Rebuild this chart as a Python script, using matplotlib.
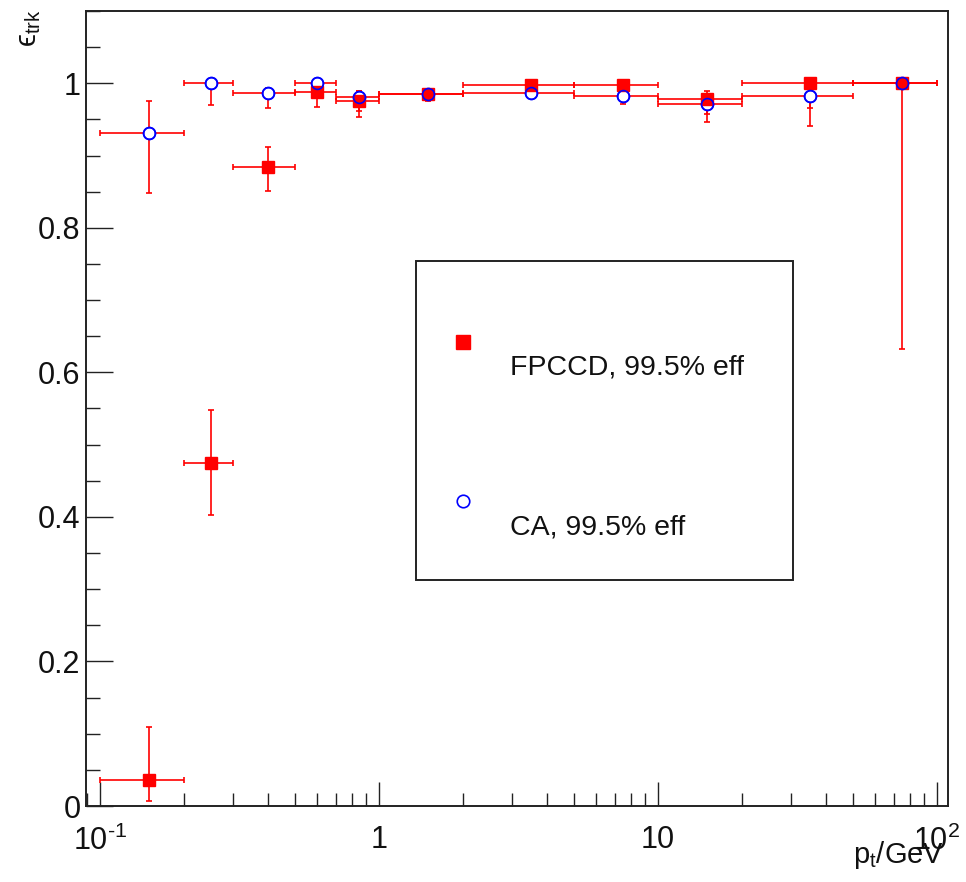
import matplotlib.pyplot as plt
import matplotlib.ticker as ticker
from matplotlib.patches import Rectangle
from matplotlib.lines import Line2D
import numpy as np

plt.rcParams['font.family'] = ['Liberation Sans', 'DejaVu Sans']
plt.rcParams['mathtext.fontset'] = 'custom'
plt.rcParams['mathtext.rm'] = 'Liberation Sans'
plt.rcParams['mathtext.it'] = 'Liberation Sans:italic'

# pt bins (GeV)
bin_lo = [0.1, 0.2, 0.3, 0.5, 0.7, 1.0, 2.0, 5.0, 10.0, 20.0, 50.0]
bin_hi = [0.2, 0.3, 0.5, 0.7, 1.0, 2.0, 5.0, 10.0, 20.0, 50.0, 100.0]
pt = [0.15, 0.25, 0.4, 0.6, 0.85, 1.5, 3.5, 7.5, 15.0, 35.0, 75.0]

# tracking efficiency, FPCCD
eff_fpccd = [0.036, 0.475, 0.884, 0.988, 0.975, 0.985, 0.997, 0.997, 0.978, 1.0, 1.0]
err_fpccd_lo = [0.029, 0.072, 0.033, 0.021, 0.022, 0.010, 0.004, 0.004, 0.032, 0.034, 0.367]
err_fpccd_hi = [0.073, 0.073, 0.028, 0.009, 0.015, 0.005, 0.003, 0.003, 0.012, 0.0, 0.0]

# tracking efficiency, CA
eff_ca = [0.931, 1.0, 0.986, 1.0, 0.981, 0.985, 0.986, 0.983, 0.971, 0.982, 1.0]
err_ca_lo = [0.083, 0.030, 0.020, 0.010, 0.020, 0.008, 0.005, 0.012, 0.014, 0.041, 0.0]
err_ca_hi = [0.044, 0.0, 0.008, 0.0, 0.009, 0.005, 0.005, 0.005, 0.012, 0.018, 0.0]

labels = ['FPCCD, 99.5% eff', 'CA, 99.5% eff']
xtick_labels = [r'$10^{\text{-}1}$', '1', '10', '$10^{2}$']

fig = plt.figure(figsize=(9.66, 8.82), dpi=100)
ax = fig.add_axes([86 / 966, 76 / 882, 862 / 966, 795 / 882])

pt_a = np.array(pt)
xerr = [pt_a - np.array(bin_lo), np.array(bin_hi) - pt_a]

# error bars (both in red)
ax.errorbar(pt, eff_ca, xerr=xerr, yerr=[err_ca_lo, err_ca_hi], fmt='none',
            ecolor='#ff0000', elinewidth=1.2, capsize=2.3, capthick=1.2, zorder=2)
ax.errorbar(pt, eff_fpccd, xerr=xerr, yerr=[err_fpccd_lo, err_fpccd_hi], fmt='none',
            ecolor='#ff0000', elinewidth=1.2, capsize=2.3, capthick=1.2, zorder=2)

# markers: white-filled circles, red squares, then circle outlines on top
ax.plot(pt, eff_ca, 'o', ms=8.5, mfc='white', mec='#0000ff', mew=1.2, ls='none', zorder=3)
ax.plot(pt, eff_fpccd, 's', ms=8.5, mfc='#ff0000', mec='#ff0000', ls='none', zorder=4)
ax.plot(pt, eff_ca, 'o', ms=8.5, mfc='none', mec='#0000ff', mew=1.2, ls='none', zorder=5)

ax.set_xscale('log')
ax.set_xlim(0.0891, 109.5)
ax.set_ylim(0, 1.1)

ax.xaxis.set_major_locator(ticker.FixedLocator([0.1, 1, 10, 100]))
ax.xaxis.set_major_formatter(ticker.FixedFormatter(xtick_labels))
ax.xaxis.set_minor_locator(ticker.LogLocator(base=10, subs=np.arange(2, 10), numticks=20))
ax.xaxis.set_minor_formatter(ticker.NullFormatter())

ax.yaxis.set_major_locator(ticker.MultipleLocator(0.2))
ax.yaxis.set_minor_locator(ticker.MultipleLocator(0.05))
ax.yaxis.set_major_formatter(ticker.FuncFormatter(lambda v, p: '%g' % round(v, 2)))

ax.tick_params(which='both', direction='in', top=False, right=False,
               width=1.0, color='#222222', labelsize=22, labelcolor='#111111')
ax.tick_params(axis='y', which='major', length=19.5, pad=4)
ax.tick_params(axis='y', which='minor', length=10)
ax.tick_params(axis='x', which='major', length=17, pad=14)
ax.tick_params(axis='x', which='minor', length=9.5)

for s in ax.spines.values():
    s.set_linewidth(1.4)
    s.set_color('#222222')

# axis titles at the axis ends
fig.text(944 / 966, 1 - 863 / 882, r'$\mathrm{p}_{\mathrm{t}}$/GeV', ha='right',
         va='baseline', fontsize=21, color='#111111')
fig.text(29 / 966, 1 - 9 / 882, r'ϵ$_{\mathrm{trk}}$', rotation=90, ha='center',
         va='top', fontsize=21, color='#111111')

# legend box
fig.patches.append(Rectangle((416 / 966, 1 - 580 / 882), 377 / 966, 319 / 882,
                             transform=fig.transFigure, fill=False, lw=1.4,
                             ec='#222222', zorder=6))
fig.lines.append(Line2D([463 / 966], [1 - 342 / 882], transform=fig.transFigure,
                        marker='s', ms=9.5, mfc='#ff0000', mec='#ff0000', ls='none'))
fig.lines.append(Line2D([463 / 966], [1 - 501 / 882], transform=fig.transFigure,
                        marker='o', ms=9, mfc='white', mec='#0000ff', mew=1.2, ls='none'))
fig.text(510 / 966, 1 - 368 / 882, labels[0], ha='left', va='center', fontsize=20.5,
         color='#111111')
fig.text(510 / 966, 1 - 527 / 882, labels[1], ha='left', va='center', fontsize=20.5,
         color='#111111')

fig.savefig('out.png', dpi=100)
